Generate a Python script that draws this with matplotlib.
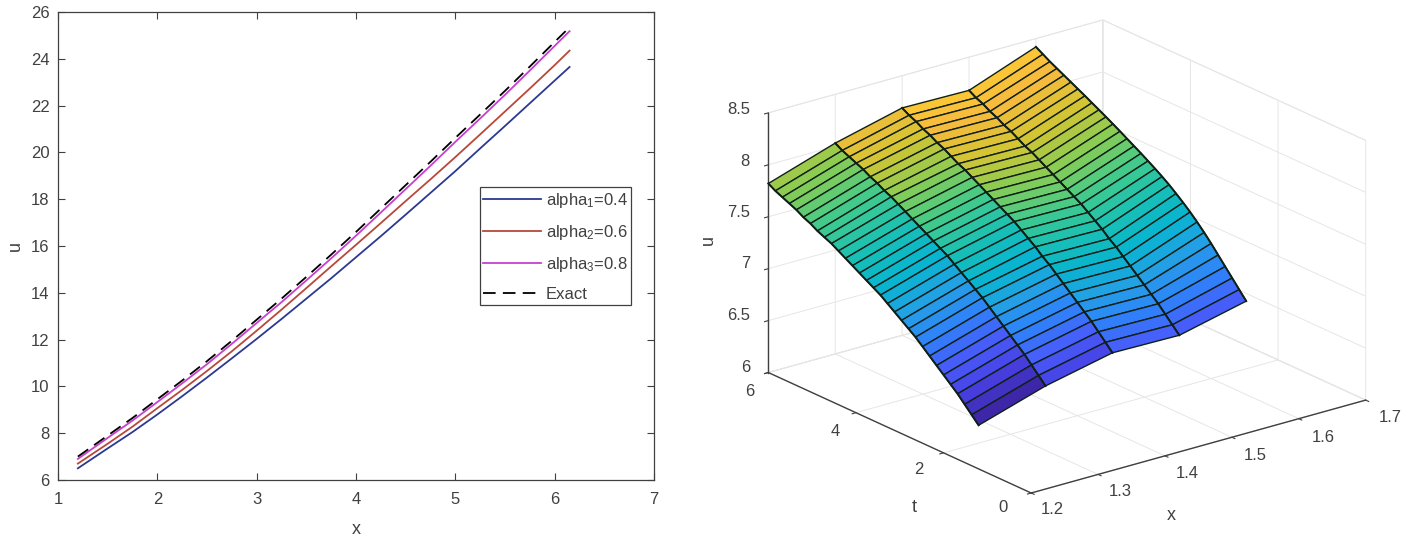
import matplotlib
matplotlib.use("Agg")
import matplotlib.pyplot as plt
from matplotlib.colors import LinearSegmentedColormap, Normalize
import numpy as np

plt.rcParams['font.family'] = ['Liberation Sans', 'DejaVu Sans']
plt.rcParams['mathtext.fontset'] = 'custom'
plt.rcParams['mathtext.rm'] = 'Liberation Sans'
plt.rcParams['mathtext.default'] = 'regular'

# left plot
xs = [1.2, 1.5, 1.75, 2, 2.25, 2.5, 2.75, 3, 3.25, 3.5, 3.75, 4, 4.25, 4.5, 4.75, 5,
      5.25, 5.5, 5.75, 6, 6.15]
alpha1 = [6.5, 7.35, 8.05, 8.8, 9.58, 10.38, 11.2, 12.03, 12.88, 13.75, 14.62, 15.52,
          16.42, 17.34, 18.27, 19.2, 20.17, 21.13, 22.1, 23.07, 23.65]
alpha2 = [6.7, 7.55, 8.28, 9.07, 9.85, 10.66, 11.5, 12.38, 13.28, 14.2, 15.13, 16.05,
          16.98, 17.92, 18.85, 19.8, 20.77, 21.75, 22.73, 23.73, 24.35]
alpha3 = [6.9, 7.8, 8.54, 9.33, 10.13, 10.95, 11.82, 12.71, 13.6, 14.53, 15.47, 16.44,
          17.43, 18.43, 19.43, 20.45, 21.45, 22.46, 23.5, 24.55, 25.18]
exact = [7.0, 7.9, 8.65, 9.45, 10.25, 11.08, 11.95, 12.85, 13.75, 14.68, 15.63, 16.6,
         17.6, 18.6, 19.6, 20.62, 21.62, 22.63, 23.67, 24.72, 25.35]

# right plot
surf_x = [1.2, 1.3, 1.4, 1.5, 1.6]
surf_t = [1.2, 1.36, 1.52, 1.68, 1.84, 2.0, 2.16, 2.32, 2.48, 2.64, 2.8, 2.96, 3.12, 3.28,
          3.44, 3.6, 3.76, 3.92, 4.08, 4.24, 4.4, 4.56, 4.72, 4.88, 5.04, 5.2, 5.36, 5.52,
          5.68, 5.84, 6.0]
u_12 = [6.42, 6.49, 6.56, 6.63, 6.69, 6.75, 6.81, 6.87, 6.93, 6.99, 7.04, 7.09, 7.14, 7.19,
        7.24, 7.28, 7.32, 7.36, 7.40, 7.44, 7.48, 7.52, 7.55, 7.58, 7.62, 7.65, 7.69, 7.72,
        7.75, 7.78, 7.82]
u_13 = [6.62, 6.69, 6.76, 6.83, 6.89, 6.95, 7.01, 7.07, 7.13, 7.19, 7.24, 7.29, 7.34, 7.39,
        7.44, 7.48, 7.52, 7.56, 7.60, 7.64, 7.68, 7.72, 7.76, 7.79, 7.83, 7.86, 7.90, 7.93,
        7.96, 7.99, 8.03]
u_14 = [6.76, 6.83, 6.90, 6.97, 7.03, 7.09, 7.15, 7.21, 7.27, 7.33, 7.38, 7.44, 7.49, 7.54,
        7.59, 7.63, 7.67, 7.71, 7.75, 7.79, 7.83, 7.87, 7.90, 7.94, 7.98, 8.01, 8.05, 8.08,
        8.12, 8.15, 8.19]
u_15 = [6.75, 6.82, 6.89, 6.96, 7.02, 7.08, 7.14, 7.20, 7.26, 7.32, 7.37, 7.43, 7.48, 7.53,
        7.58, 7.62, 7.66, 7.70, 7.74, 7.78, 7.82, 7.86, 7.89, 7.93, 7.97, 8.00, 8.04, 8.07,
        8.11, 8.14, 8.18]
u_16 = [6.90, 6.98, 7.06, 7.14, 7.22, 7.30, 7.375, 7.445, 7.51, 7.57, 7.626, 7.68, 7.728, 7.773,
        7.816, 7.858, 7.898, 7.938, 7.978, 8.017, 8.055, 8.092, 8.128, 8.165, 8.20, 8.235, 8.27,
        8.305, 8.34, 8.38, 8.42]

x_ticks = [1.2, 1.3, 1.4, 1.5, 1.6, 1.7]
t_ticks = [0, 2, 4, 6]
u_ticks = [6, 6.5, 7, 7.5, 8, 8.5]

parula = LinearSegmentedColormap.from_list('parula', [
    (0.2422, 0.1504, 0.6603), (0.2783, 0.2559, 0.8991), (0.2760, 0.3667, 0.9829),
    (0.1834, 0.5074, 0.9798), (0.1380, 0.6276, 0.8973), (0.0297, 0.7082, 0.8163),
    (0.0964, 0.7500, 0.7120), (0.2470, 0.7918, 0.5567), (0.5300, 0.8000, 0.3300),
    (0.8300, 0.7700, 0.2000), (0.9728, 0.7298, 0.2394), (0.9892, 0.8136, 0.1885),
    (0.9769, 0.9839, 0.0805)])

dark = '#404040'
W, H = 1405, 540
fig = plt.figure(figsize=(W / 100, H / 100), dpi=100)

ax = fig.add_axes([58 / W, 1 - 480 / H, (654 - 58) / W, (480 - 12) / H])
ax.plot(xs, alpha1, color='#2b3990', lw=1.3, label='alpha$_1$=0.4')
ax.plot(xs, alpha2, color='#b8483a', lw=1.3, label='alpha$_2$=0.6')
ax.plot(xs, alpha3, color='#c83fd0', lw=1.3, label='alpha$_3$=0.8')
ax.plot(xs, exact, color='black', lw=1.3, dashes=(7, 4), label='Exact')
ax.set_xlim(1, 7)
ax.set_ylim(6, 26)
ax.set_xticks(range(1, 8))
ax.set_yticks(range(6, 27, 2))
ax.tick_params(direction='in', top=True, right=True, length=5, width=0.8,
               color=dark, labelcolor=dark, labelsize=12, pad=6)
ax.tick_params(axis='x', pad=9)
for s in ax.spines.values():
    s.set_color(dark)
    s.set_linewidth(0.9)
ax.set_xlabel('x', fontsize=13, color=dark, labelpad=10)
ax.set_ylabel('u', fontsize=13, color=dark, labelpad=5)
leg = ax.legend(loc='lower left', bbox_to_anchor=((480 - 58) / 596, (480 - 305) / 468),
                fontsize=12, fancybox=False, framealpha=1, edgecolor=dark,
                borderaxespad=0, borderpad=0.2, labelspacing=0.78,
                handlelength=3.45, handletextpad=0.3)
leg.get_frame().set_linewidth(0.9)
for t in leg.get_texts():
    t.set_color(dark)

# 3d plot, size worked out from the pixel corners of the box
S = 800
ax3 = fig.add_axes([(1067 - 0.5135 * S) / W, (283.5 - 0.5135 * S) / H, S / W, S / H],
                   projection='3d', computed_zorder=False)
ax3.set_proj_type('ortho')
ax3.view_init(elev=20.9, azim=-127.9)
ax3.set_box_aspect((424, 428, 278), zoom=644 / S)
ax3.patch.set_alpha(0)

X, T = np.meshgrid(surf_x, surf_t)
U = np.column_stack([u_12, u_13, u_14, u_15, u_16])
norm = Normalize(np.min(U), np.max(U) - 0.03)
ax3.plot_surface(X, T, U, rcount=len(surf_t), ccount=len(surf_x),
                 facecolors=parula(norm(U[:-1, :-1])), shade=False,
                 edgecolor='#102018', linewidth=1.0, zorder=2)
for j in range(len(surf_x)):
    ax3.plot(X[:, j], T[:, j], U[:, j], color='#102018', lw=1.4, zorder=3)

ax3.set_xlim(1.2, 1.7, view_margin=0)
ax3.set_ylim(0, 6, view_margin=0)
ax3.set_zlim(6, 8.5, view_margin=0)
ax3.set_xticks(x_ticks)
ax3.set_yticks(t_ticks)
ax3.set_zticks(u_ticks)
ax3.set_xticklabels([])
ax3.set_yticklabels([])
ax3.set_zticklabels([])
for a in (ax3.xaxis, ax3.yaxis, ax3.zaxis):
    a.set_pane_color((1, 1, 1, 1))
    a.pane.set_edgecolor('#e4e4e4')
    a.pane.set_linewidth(0.7)
    a.line.set_color(dark)
    a.line.set_linewidth(1.0)
    a._axinfo['grid']['color'] = '#e6e6e6'
    a._axinfo['grid']['linewidth'] = 0.7
    a._axinfo['tick']['inward_factor'] = 0.14
    a._axinfo['tick']['outward_factor'] = 0.0
ax3.tick_params(color=dark)

# mplot3d will not put tick labels where matlab does, so they go on the figure by pixel
def label_px(px, py, s, **kw):
    fig.text(px / W, 1 - py / H, s, fontsize=kw.pop('fontsize', 12), color=dark,
             va='center', **kw)


for v, px, py in zip(x_ticks, [1052, 1120, 1187, 1255, 1323, 1390],
                     [510, 492, 473, 455, 437, 418]):
    label_px(px, py, f'{v:g}', ha='center')
for v, px, py in zip(t_ticks, [1003, 919, 835, 750], [507, 469, 431, 392]):
    label_px(px, py, f'{v:g}', ha='center')
for v, py in zip(u_ticks, [367, 316, 264, 213, 162, 110]):
    label_px(750, py, f'{v:g}', ha='right')

label_px(1171, 515, 'x', fontsize=13, ha='center')
label_px(914, 507, 't', fontsize=13, ha='center')
label_px(708, 240, 'u', fontsize=13, ha='center', rotation=90)

fig.savefig('out.png', dpi=100, facecolor='white')
